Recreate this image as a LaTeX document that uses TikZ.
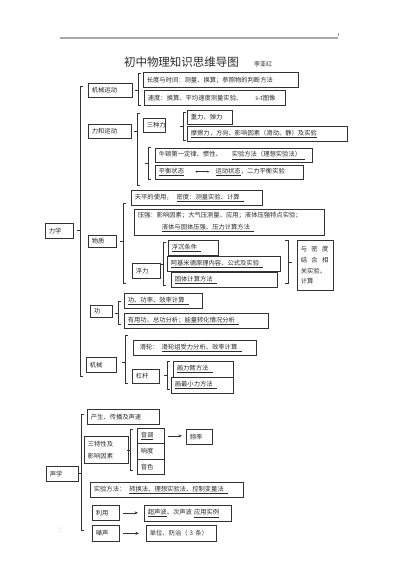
\documentclass[tikz,border=0pt]{standalone}
\usepackage{fontspec}
\setmainfont{Noto Sans CJK SC}
\usetikzlibrary{arrows.meta}
\definecolor{ln}{HTML}{333333}
\definecolor{tx}{HTML}{2a2a2a}
\tikzset{
  bx/.style={draw=ln, line width=0.7pt, inner xsep=3.5pt, inner ysep=0pt, align=left,
    font=\fontsize{6.3}{8}\selectfont, text=tx},
  brk/.style={draw=ln, line width=0.5pt},
  arr/.style={draw=ln, line width=0.6pt, -{Stealth[length=3.5pt,width=3pt]}},
}
\newcommand\bx[7][]{\pgfmathsetmacro\bxw{#5-#3-7}\pgfmathsetmacro\bxh{#6-#4}%
  \node[bx,anchor=north west,text width=\bxw pt,minimum height=\bxh pt,#1] (#2) at (#3,#4) {#7};}
\newcommand\lbrk[4]{\draw[brk] (#1+3,#2) -- (#1,#2) -- (#1,#3) -- (#1+3,#3) (#1,#4) -- (#1-3,#4);}
\newcommand\rbrk[4]{\draw[brk] (#1-3,#2) -- (#1,#2) -- (#1,#3) -- (#1-3,#3) (#1,#4) -- (#1+4,#4);}
\newcommand\gp{\hspace{4.3pt}}
\newcommand\dbarrow{\tikz[baseline=-0.6ex]\draw[draw=ln,line width=0.5pt,{Stealth[length=2pt,width=2pt]}-{Stealth[length=2pt,width=2pt]}] (0pt,0pt)--(14pt,0pt);}
\begin{document}
\begin{tikzpicture}[x=1pt,y=-1pt]
\fill[white] (0,0) rectangle (400,566);
\useasboundingbox (0,0) rectangle (400,566);
% header
\draw[draw=black!35, line width=1.3pt] (60,38) -- (338,38);
\draw[draw=black!40, line width=0.5pt] (338,33) -- (338,35.5);
\node[font=\fontsize{11.5}{12}\selectfont, text=tx] (title) at (181.5,62) {初中物理知识思维导图};
\node[font=\fontsize{6}{7}\selectfont, text=tx] (author) at (263,64) {李亚红};
% 力学
\bx{lx}{45}{223}{73}{238}{力学}
\lbrk{80}{86}{376}{230}
% 机械运动
\bx{jxyd}{88}{83}{132}{97}{机械运动}
\lbrk{138}{73}{105}{90}
\bx{cdsj}{143}{72}{298}{87}{长度与时间：测量、换算；参照物的判断方法}
\bx{sd}{144}{90}{285}{105}{速度：换算、平均速度测量实验、\hspace{13pt}s-t图像}
% 力和运动
\bx{lhyd}{88}{124}{131}{138}{力和运动}
\lbrk{137}{113}{185}{131}
\bx{szl}{143}{118}{165}{132}{三种力}
\lbrk{183}{112}{140}{126}
\bx{zl}{187}{110}{232}{124}{重力、弹力}
\bx{mcl}{187}{126}{347}{141}{\underline{摩擦力，方向、影响因素（滑动、静）及实验}}
\lbrk{148}{147}{179}{163}
\bx{nd}{155}{148}{312}{162}{牛顿第一定律、惯性、\hspace{10pt}\underline{实验方法（理想实验法）\ \ }}
\bx{ph}{155}{165}{303}{179}{\underline{平衡状态}\hspace{11pt}\dbarrow\hspace{6pt}\underline{运动状态}，二力平衡实验}
% 物质
\bx{tp}{131}{190}{262}{205}{天平的使用，\hspace{4pt}\underline{密度：测量实验、计算\ \ }}
\bx{wz}{88}{235}{116}{247}{物质}
\lbrk{123}{203}{283}{241}
\bx[font=\fontsize{6.3}{11.5}\selectfont]{yq}{134}{209}{324}{235}{压强：影响因素；大气压测量、应用；液体压强特点实验；\\\hspace*{24pt}\underline{液体与固体压强、压力计算方法\ \ }}
\bx{fl}{132}{263}{160}{278}{浮力}
\lbrk{163}{242}{285}{264}
\bx{fc}{168}{240}{218}{255}{\underline{浮沉条件\ \ }}
\bx{ajmd}{167}{256}{280}{271}{\underline{阿基米德原理内容、公式及实验\ \ }}
\bx{gt}{171}{272}{277}{287}{\underline{固体计算方法\ \ }}
\rbrk{288}{240}{283}{262}
\bx[font=\fontsize{6.3}{10.8}\selectfont]{ymd}{297}{240}{333}{290}{与\gp 密\gp 度\\结\gp 合\gp 相\\关实验、\\计算}
% 功
\bx{gong}{90}{305}{112}{317}{功}
\lbrk{118}{301}{324}{313}
\bx{gl}{124}{293}{202}{308}{\underline{功、功率、效率计算\ \ }}
\bx{yyg}{124}{313}{268}{328}{\underline{有用功、总功分析；能量转化情况分析\ \ }}
% 机械
\bx{jx}{86}{357}{116}{372}{机械}
\lbrk{125}{335}{383}{362}
\bx{hl}{133}{340}{256}{355}{\hspace{3pt}滑轮：\hspace{3pt}\underline{滑轮组受力分析、效率计算\ \ }}
\bx{gg}{132}{369}{159}{383}{杠杆}
\lbrk{167}{361}{389}{375}
\bx{hlb}{173}{361}{233}{377}{\underline{画力臂方法\ \ }}
\bx{hzx}{171}{377}{233}{393}{\underline{画最小力方法\ \ }}
% 声学
\bx{sx}{46}{466}{78}{481}{声学}
\lbrk{81}{414}{530}{473}
\bx{cs}{87}{409}{159}{424}{产生、传播及声速}
\bx[font=\fontsize{6.3}{12.5}\selectfont]{stx}{84}{436}{128}{463}{三特性及\\影响因素}
\lbrk{130}{429}{470}{450}
\bx{yd}{137}{428}{164}{443}{\underline{音调}}
\bx{xd}{137}{443}{164}{459}{响度}
\bx{ys}{137}{459}{164}{474}{音色}
\bx{pl}{186}{429}{212}{444}{频率}
\draw[arr, shorten <=3pt, shorten >=4pt] (yd.east) -- (yd.east -| pl.west);
\bx{syff}{90}{482}{243}{497}{实验方法：\hspace{4pt}\underline{转换法、理想实验法、控制变量法\ \ }}
\bx{ly}{92}{505}{119}{520}{利用}
\bx{csb}{144}{505}{231}{521}{\underline{超声波}、次声波\ \underline{应用实例}}
\draw[arr, shorten <=3pt, shorten >=6pt] (ly.east) -- (ly.east -| csb.west);
\bx{zs}{92}{525}{119}{541}{噪声}
\bx{dw}{146}{525}{216}{541}{单位、防治（ 3 条）}
\draw[arr, shorten <=3pt, shorten >=7pt] (zs.east) -- (zs.east -| dw.west);
% small marks
\fill[black!45] (60,528) circle (0.5);
\fill[black!45] (61,531.5) circle (0.4);
\end{tikzpicture}
\end{document}
